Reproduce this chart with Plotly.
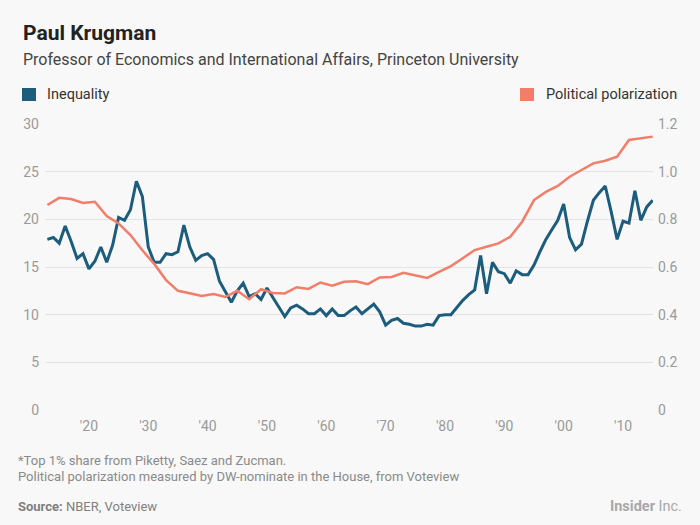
import plotly.graph_objects as go

# ---------------- data ----------------
ineq_years = list(range(1913, 2016))
ineq_values = [
    17.9, 18.1, 17.5, 19.3, 17.7, 15.9, 16.4, 14.8, 15.6, 17.1,
    15.5, 17.3, 20.2, 19.9, 21.0, 24.0, 22.4, 17.1, 15.5, 15.5,
    16.4, 16.3, 16.6, 19.4, 17.1, 15.7, 16.2, 16.4, 15.8, 13.5,
    12.4, 11.3, 12.5, 13.3, 11.9, 12.2, 11.6, 12.8, 11.8, 10.8,
    9.8, 10.7, 11.0, 10.6, 10.1, 10.1, 10.6, 9.9, 10.6, 9.9,
    9.9, 10.4, 10.8, 10.1, 10.6, 11.1, 10.3, 8.9, 9.4, 9.6,
    9.1, 9.0, 8.8, 8.8, 9.0, 8.9, 9.9, 10.0, 10.0, 10.8,
    11.5, 12.1, 12.6, 16.2, 12.2, 15.5, 14.5, 14.3, 13.3, 14.6,
    14.2, 14.2, 15.2, 16.6, 17.9, 18.9, 19.9, 21.6, 18.1, 16.8,
    17.4, 19.8, 22.0, 22.8, 23.5, 20.8, 17.9, 19.8, 19.6, 23.0,
    19.9, 21.3, 22.0,
]

pol_years = list(range(1913, 2016, 2))
pol_values = [
    0.860, 0.890, 0.885, 0.869, 0.874, 0.814, 0.783, 0.734, 0.670, 0.613,
    0.545, 0.500, 0.490, 0.478, 0.487, 0.474, 0.500, 0.465, 0.507, 0.491,
    0.489, 0.515, 0.508, 0.535, 0.522, 0.538, 0.540, 0.528, 0.556, 0.558,
    0.576, 0.566, 0.554, 0.580, 0.604, 0.637, 0.671, 0.685, 0.699, 0.727,
    0.790, 0.881, 0.915, 0.940, 0.979, 1.007, 1.035, 1.046, 1.063, 1.133,
    1.140, 1.147,
]

x_tick_vals = [1920, 1930, 1940, 1950, 1960, 1970, 1980, 1990, 2000, 2010]
x_tick_text = ["'20", "'30", "'40", "'50", "'60", "'70", "'80", "'90", "'00", "'10"]
left_tick_vals = [0, 5, 10, 15, 20, 25, 30]
right_tick_vals = [0, 0.2, 0.4, 0.6, 0.8, 1.0, 1.2]
right_tick_text = ["0", "0.2", "0.4", "0.6", "0.8", "1.0", "1.2"]

series_names = ["Inequality", "Political polarization"]
series_colors = ["#1c5c7c", "#f27d69"]

# ---------------- layout geometry ----------------
W, H = 700, 525
L, R, T, B = 45, 47, 124, 115
PW, PH = W - L - R, H - T - B
FONT = "Roboto"


def px(xp):
    return (xp - L) / PW


def py(yp):
    return (H - B - yp) / PH


fig = go.Figure()
fig.add_trace(go.Scatter(
    x=ineq_years, y=ineq_values, mode="lines", name=series_names[0],
    line=dict(color=series_colors[0], width=3), yaxis="y", showlegend=False,
))
fig.add_trace(go.Scatter(
    x=pol_years, y=pol_values, mode="lines", name=series_names[1],
    line=dict(color=series_colors[1], width=2.5), yaxis="y2", showlegend=False,
))

tick_font = dict(family=FONT, size=14, color="#9a9a9a")

annotations = [
    dict(text="<b>Paul Krugman</b>", x=px(21), y=py(33), xref="paper", yref="paper",
         xanchor="left", yanchor="middle", showarrow=False,
         font=dict(family=FONT, size=21, color="#222222")),
    dict(text="Professor of Economics and International Affairs, Princeton University",
         x=px(21), y=py(59), xref="paper", yref="paper",
         xanchor="left", yanchor="middle", showarrow=False,
         font=dict(family=FONT, size=16, color="#444444")),
    dict(text=series_names[0], x=px(45), y=py(94), xref="paper", yref="paper",
         xanchor="left", yanchor="middle", showarrow=False,
         font=dict(family=FONT, size=14.5, color="#333333")),
    dict(text=series_names[1], x=px(679), y=py(94), xref="paper", yref="paper",
         xanchor="right", yanchor="middle", showarrow=False,
         font=dict(family=FONT, size=14.5, color="#333333")),
    dict(text="*Top 1% share from Piketty, Saez and Zucman.", x=px(16), y=py(460),
         xref="paper", yref="paper", xanchor="left", yanchor="middle", showarrow=False,
         font=dict(family=FONT, size=13, color="#8a8a8a")),
    dict(text="Political polarization measured by DW-nominate in the House, from Voteview",
         x=px(16), y=py(477), xref="paper", yref="paper", xanchor="left", yanchor="middle",
         showarrow=False, font=dict(family=FONT, size=13, color="#8a8a8a")),
    dict(text="<b>Source:</b> NBER, Voteview", x=px(16), y=py(506),
         xref="paper", yref="paper", xanchor="left", yanchor="middle", showarrow=False,
         font=dict(family=FONT, size=13, color="#808080")),
    dict(text="<b>Insider</b> Inc.", x=px(684), y=py(506),
         xref="paper", yref="paper", xanchor="right", yanchor="middle", showarrow=False,
         font=dict(family=FONT, size=14.5, color="#a8a8a8")),
]

shapes = [
    dict(type="rect", xref="paper", yref="paper", x0=px(22), x1=px(36), y0=py(101), y1=py(88),
         fillcolor=series_colors[0], line=dict(width=0)),
    dict(type="rect", xref="paper", yref="paper", x0=px(520), x1=px(534), y0=py(101), y1=py(88),
         fillcolor=series_colors[1], line=dict(width=0)),
]

fig.update_layout(
    width=W, height=H,
    margin=dict(l=L, r=R, t=T, b=B, pad=0),
    paper_bgcolor="#f8f8f8", plot_bgcolor="#f8f8f8",
    font=dict(family=FONT),
    xaxis=dict(range=[1912.6, 2015.05], tickvals=x_tick_vals, ticktext=x_tick_text,
               showgrid=False, zeroline=False, showline=False, ticks="",
               tickfont=tick_font, ticklabelstandoff=6, fixedrange=True),
    yaxis=dict(range=[0, 30], tickvals=left_tick_vals, showgrid=True,
               gridcolor="#e4e4e4", gridwidth=1, zeroline=False, showline=False,
               ticks="", tickfont=tick_font, ticklabelstandoff=5, fixedrange=True),
    yaxis2=dict(range=[0, 1.2], tickvals=right_tick_vals, ticktext=right_tick_text,
                overlaying="y", side="right", showgrid=False, zeroline=False,
                showline=False, ticks="", tickfont=tick_font, ticklabelstandoff=4,
                fixedrange=True),
    annotations=annotations,
    shapes=shapes,
    showlegend=False,
)

fig.write_html("out.html")
